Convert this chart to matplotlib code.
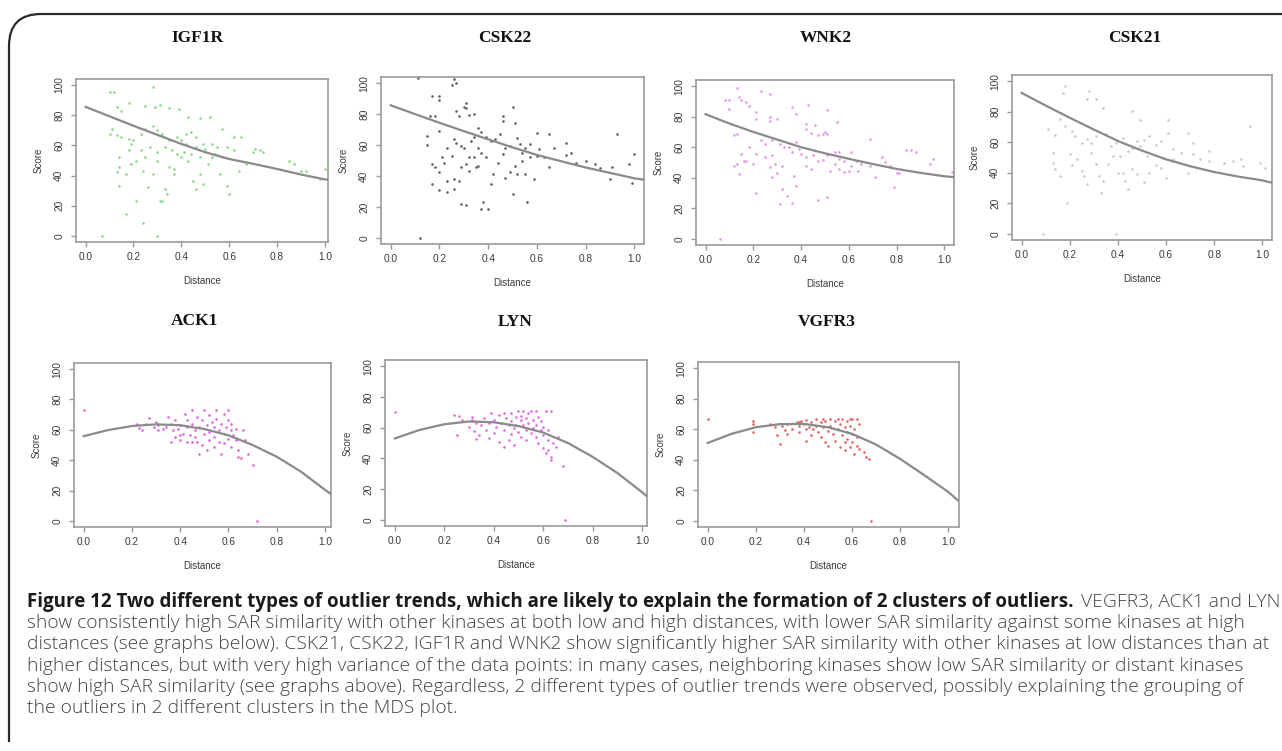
import numpy as np
import matplotlib
matplotlib.use("Agg")
import matplotlib.pyplot as plt
from matplotlib.patches import FancyBboxPatch

W, H = 1282, 751

# curve sample positions (distance) shared by every panel
dist_grid = [0.0, 0.1, 0.2, 0.3, 0.4, 0.5, 0.6, 0.7, 0.8, 0.9, 1.0, 1.04]

igf1r_fit = [85.5, 79.3, 73, 67, 61, 55.5, 51, 47.8, 44.4, 40.7, 37.5, 36.7]
csk22_fit = [85.7, 80, 74.4, 69, 63.7, 58.5, 53.6, 49.5, 45.5, 42, 38.5, 37.6]
wnk2_fit = [81.6, 75.5, 70, 65, 60, 56, 52.4, 49, 45.8, 43.2, 41, 40.4]
csk21_fit = [92.3, 84, 76, 68.3, 60.8, 54.5, 48.8, 44.3, 40.5, 37.5, 35, 33.5]
ack1_fit = [55.8, 59.8, 62.5, 63.6, 63, 60.5, 56.4, 50, 42.3, 32.5, 20.5, 16]
lyn_fit = [53, 58.5, 62.2, 64, 63.5, 61, 56.8, 50, 41, 30.5, 18, 12.5]
vgfr3_fit = [51, 57, 61.3, 63.3, 63.5, 61.3, 57, 50, 40.6, 30, 19, 13.5]

igf1r_pts = [
    (0.10, 95.5), (0.12, 95.5), (0.28, 98.4), (0.25, 86), (0.29, 85.5), (0.31, 87), (0.18, 88),
    (0.13, 85.5), (0.15, 83), (0.35, 85), (0.43, 79), (0.48, 78), (0.52, 79), (0.57, 71),
    (0.62, 65.5), (0.65, 65.5), (0.39, 84.4), (0.10, 67.8), (0.11, 71), (0.13, 66.7), (0.15, 65.5),
    (0.18, 64.4), (0.20, 63.3), (0.23, 67.8), (0.25, 71), (0.28, 73), (0.30, 70), (0.32, 67.8),
    (0.35, 63.3), (0.38, 65.5), (0.40, 63.3), (0.42, 67.8), (0.44, 68.9), (0.46, 65.5), (0.49, 61),
    (0.53, 61), (0.55, 58.9), (0.59, 58.9), (0.62, 56.7), (0.70, 55.5), (0.71, 57.8), (0.73, 56.7),
    (0.74, 55.5), (0.85, 50), (0.87, 47.8), (0.90, 43.3), (0.92, 43.3), (1.0, 44.4), (0.98, 37.8),
    (0.14, 52.2), (0.14, 45.5), (0.13, 42.2), (0.14, 33.3), (0.17, 41), (0.19, 47.8), (0.21, 50),
    (0.21, 23.3), (0.17, 14.4), (0.24, 8.9), (0.24, 43.3), (0.26, 32.2), (0.28, 41), (0.30, 50),
    (0.31, 23.3), (0.32, 23.3), (0.33, 31), (0.34, 27.8), (0.35, 45.5), (0.37, 41), (0.37, 44.4),
    (0.38, 54.4), (0.40, 52.2), (0.41, 55.5), (0.43, 50), (0.45, 36.7), (0.46, 31), (0.48, 41),
    (0.49, 34.4), (0.51, 47.8), (0.53, 52.2), (0.56, 41), (0.59, 33.3), (0.60, 27.8), (0.64, 43.3),
    (0.67, 47.8), (0.48, 52.2), (0.44, 54.4), (0.27, 58.9), (0.30, 55.5), (0.33, 58.9), (0.23, 56.7),
    (0.25, 52.2), (0.18, 56.7), (0.19, 61), (0.36, 56.7), (0.42, 61), (0.46, 58.9), (0.50, 57.8),
    (0.54, 54.4), (0.57, 52.2), (0.07, 0), (0.30, 0),
]

csk22_pts = [
    (0.12, 0), (0.11, 103.6), (0.26, 103), (0.27, 100), (0.25, 99), (0.17, 92), (0.20, 91.5),
    (0.20, 89), (0.31, 87), (0.30, 84.4), (0.31, 84), (0.50, 84.4), (0.16, 78.6), (0.18, 79),
    (0.28, 78.6), (0.27, 81.8), (0.32, 79.7), (0.34, 80.3), (0.46, 78.6), (0.51, 74.4), (0.46, 75.4),
    (0.15, 65.8), (0.15, 60), (0.20, 69), (0.26, 64), (0.27, 61.5), (0.29, 59.4), (0.33, 62.6),
    (0.34, 65), (0.36, 71), (0.37, 68.6), (0.39, 65), (0.41, 62.6), (0.43, 63.7), (0.45, 67.3),
    (0.47, 58.3), (0.49, 59.4), (0.52, 64.7), (0.53, 60.5), (0.55, 58.3), (0.57, 60.5), (0.60, 68),
    (0.65, 67), (0.67, 58.3), (0.72, 61.5), (0.72, 53.4), (0.74, 54.7), (0.76, 48.3), (0.80, 49.8),
    (0.84, 48), (0.86, 44.9), (0.91, 46), (0.93, 67), (0.90, 38), (0.98, 48), (1.0, 54),
    (0.99, 35.5), (0.17, 47.6), (0.18, 46), (0.17, 34.8), (0.20, 42.3), (0.21, 52.4), (0.22, 48.3),
    (0.23, 37), (0.23, 29.5), (0.20, 30.6), (0.25, 53), (0.26, 38), (0.28, 37), (0.26, 31.6),
    (0.29, 45.5), (0.29, 22), (0.31, 21), (0.31, 47.6), (0.32, 43.4), (0.34, 52), (0.35, 45.5),
    (0.36, 46.6), (0.37, 18.8), (0.38, 23), (0.40, 18.8), (0.39, 52), (0.41, 34.8), (0.42, 41),
    (0.44, 48.7), (0.46, 54), (0.47, 39), (0.49, 42.3), (0.50, 28.4), (0.51, 46.6), (0.52, 41),
    (0.54, 49.8), (0.55, 41), (0.56, 23), (0.57, 52), (0.59, 38), (0.61, 57.3), (0.63, 52),
    (0.65, 45.5), (0.54, 55), (0.60, 53), (0.37, 55), (0.32, 52), (0.30, 58.3), (0.23, 58.3),
    (0.36, 58.3),
]

wnk2_pts = [
    (0.06, 0), (0.13, 99), (0.23, 97), (0.27, 94.7), (0.08, 91), (0.10, 90.8), (0.14, 93),
    (0.15, 90.8), (0.17, 89.7), (0.18, 86.8), (0.10, 85.3), (0.36, 86), (0.43, 87.5), (0.51, 84.6),
    (0.21, 83), (0.21, 78.7), (0.27, 79.8), (0.27, 77), (0.30, 78.7), (0.38, 82), (0.42, 75.4),
    (0.46, 74.3), (0.50, 70), (0.42, 72), (0.44, 69.3), (0.47, 67.8), (0.49, 68.9), (0.51, 68.9),
    (0.55, 76.5), (0.12, 67.8), (0.13, 68.4), (0.23, 64.5), (0.25, 61.8), (0.28, 65), (0.31, 61.8),
    (0.33, 60), (0.35, 60), (0.38, 63.4), (0.39, 58.6), (0.36, 56.8), (0.40, 55.7), (0.42, 53.5),
    (0.45, 54.6), (0.47, 51.3), (0.49, 51.8), (0.51, 54.6), (0.54, 56.8), (0.56, 56.8), (0.56, 52.4),
    (0.58, 50.9), (0.61, 56.8), (0.63, 51.3), (0.65, 49.1), (0.69, 65.6), (0.74, 53.5), (0.75, 50.2),
    (0.77, 48), (0.84, 57.9), (0.86, 57.9), (0.88, 56.8), (0.94, 48.7), (0.95, 52.4), (0.80, 43),
    (0.81, 43), (0.79, 33.8), (0.12, 48), (0.13, 49), (0.14, 42.5), (0.16, 50.9), (0.17, 51.3),
    (0.15, 55.7), (0.18, 60), (0.21, 55.3), (0.20, 49.1), (0.25, 53.5), (0.27, 47), (0.28, 54.6),
    (0.29, 49.1), (0.30, 43), (0.32, 47.4), (0.32, 32.7), (0.31, 22.8), (0.34, 28.3), (0.36, 23.2),
    (0.21, 29.8), (0.28, 40.4), (0.37, 41.4), (0.38, 34.9), (0.42, 48), (0.44, 45.8), (0.47, 25.4),
    (0.51, 27.6), (0.52, 44.7), (0.54, 49.1), (0.56, 45.8), (0.58, 43.6), (0.60, 44.7), (0.64, 44.3),
    (0.71, 40.4), (0.69, 48), (1.03, 43.6), (0.61, 48),
]

csk21_pts = [
    (0.18, 96.5), (0.17, 92), (0.28, 93.7), (0.31, 88.6), (0.34, 82.7), (0.27, 88.2), (0.46, 80.5),
    (0.49, 74.4), (0.61, 74.6), (0.95, 70.7), (0.11, 68.5), (0.14, 64.6), (0.16, 75), (0.18, 70.7),
    (0.21, 67.4), (0.22, 64), (0.25, 59.7), (0.27, 62.4), (0.29, 59.7), (0.31, 64), (0.35, 65.2),
    (0.37, 57.5), (0.39, 59.7), (0.42, 63), (0.44, 54.3), (0.46, 56.5), (0.48, 60.8), (0.49, 57.5),
    (0.51, 61.5), (0.53, 64), (0.56, 58), (0.58, 60.8), (0.61, 66.3), (0.63, 55.4), (0.66, 52.7),
    (0.69, 66.3), (0.71, 52), (0.74, 48.8), (0.78, 54.3), (0.78, 47.7), (0.84, 46.6), (0.88, 47.7),
    (0.91, 49.2), (0.92, 44.4), (0.99, 46.6), (1.01, 43.3), (0.13, 53), (0.13, 46.6), (0.14, 42.2),
    (0.16, 37.9), (0.19, 20), (0.21, 44.9), (0.23, 48.8), (0.25, 41.1), (0.26, 37.9), (0.27, 32.4),
    (0.29, 53), (0.31, 45.5), (0.32, 37.9), (0.33, 27), (0.34, 34.6), (0.36, 45.5), (0.38, 51),
    (0.40, 40), (0.42, 40), (0.43, 34.6), (0.44, 29.5), (0.46, 42.2), (0.48, 39), (0.51, 33.9),
    (0.53, 40), (0.56, 44.9), (0.58, 43.3), (0.60, 36.8), (0.63, 48.8), (0.69, 40), (0.39, 0),
    (0.09, 0), (0.20, 52.1), (0.41, 51), (0.52, 51), (0.71, 59.7),
]

ack1_pts = [
    (0.0, 73.2), (0.22, 64), (0.23, 61.4), (0.24, 59.7), (0.26, 64), (0.27, 68), (0.29, 61.9),
    (0.30, 65), (0.31, 59.7), (0.31, 63), (0.33, 60.8), (0.34, 61.9), (0.35, 68.4), (0.36, 52),
    (0.36, 64), (0.37, 59.7), (0.38, 55.3), (0.38, 66.2), (0.39, 60.8), (0.40, 53.2), (0.40, 63),
    (0.41, 57.5), (0.42, 70.6), (0.43, 66.2), (0.43, 52), (0.43, 61.9), (0.44, 56.4), (0.45, 72.8),
    (0.45, 64), (0.46, 59.7), (0.46, 55.3), (0.47, 68.4), (0.47, 52), (0.48, 61.9), (0.49, 49.9),
    (0.49, 66.2), (0.50, 57.5), (0.50, 72.8), (0.51, 63), (0.52, 53.2), (0.52, 69.5), (0.52, 58.6),
    (0.53, 65.1), (0.54, 48.8), (0.54, 61.9), (0.54, 55.3), (0.55, 72.8), (0.55, 67.3), (0.56, 59.7),
    (0.56, 52), (0.57, 44.4), (0.57, 64), (0.58, 57.5), (0.58, 70.6), (0.58, 51), (0.59, 61.9),
    (0.60, 66.2), (0.60, 54.2), (0.60, 72.8), (0.61, 59.7), (0.61, 48.8), (0.61, 64), (0.62, 56.4),
    (0.63, 60.8), (0.63, 53.2), (0.64, 46.6), (0.64, 42.3), (0.65, 41.2), (0.66, 59.7), (0.67, 53.2),
    (0.68, 44.4), (0.70, 36.8), (0.72, 0), (0.51, 46.6), (0.48, 44.4), (0.40, 56.4), (0.45, 52),
]

lyn_pts = [
    (0.0, 69.9), (0.24, 68), (0.26, 67.7), (0.25, 55.2), (0.27, 65), (0.30, 60.7), (0.31, 67.2),
    (0.32, 58), (0.33, 62.9), (0.34, 55.2), (0.35, 61.8), (0.36, 66.2), (0.37, 58.5), (0.38, 62.9),
    (0.39, 69.4), (0.40, 56.3), (0.40, 65), (0.41, 60.7), (0.42, 68.3), (0.42, 50.9), (0.43, 62.9),
    (0.44, 47.6), (0.44, 69.4), (0.44, 58.5), (0.45, 66.2), (0.46, 61.8), (0.47, 55.9), (0.47, 69.4),
    (0.47, 64), (0.48, 59.6), (0.48, 48.7), (0.49, 67.2), (0.49, 61.8), (0.50, 57.4), (0.50, 70.5),
    (0.51, 65), (0.51, 54.1), (0.51, 67.7), (0.52, 61.8), (0.52, 70.5), (0.53, 58.5), (0.53, 66.2),
    (0.53, 52), (0.54, 69.4), (0.54, 62.9), (0.55, 56.3), (0.55, 70.5), (0.56, 65), (0.56, 59.6),
    (0.57, 70.5), (0.57, 54.1), (0.57, 61.8), (0.58, 67.2), (0.58, 49.8), (0.59, 58.5), (0.59, 64),
    (0.60, 46.5), (0.60, 55.2), (0.60, 60.7), (0.61, 43.2), (0.61, 70.5), (0.62, 52), (0.62, 58.5),
    (0.62, 45.4), (0.63, 70.5), (0.63, 41), (0.63, 38.9), (0.64, 49.8), (0.65, 47.6), (0.66, 54.1),
    (0.68, 34.9), (0.69, 0), (0.33, 52.4), (0.38, 53), (0.46, 52), (0.31, 65),
]

vgfr3_pts = [
    (0.0, 66.7), (0.19, 65.2), (0.19, 63.5), (0.19, 58), (0.26, 63.5), (0.28, 61.3), (0.29, 55.9),
    (0.30, 50.4), (0.31, 62.4), (0.32, 59.6), (0.33, 63.5), (0.33, 57), (0.35, 60.2), (0.37, 64.6),
    (0.38, 64.6), (0.38, 62.4), (0.39, 65.7), (0.40, 63.5), (0.41, 60.2), (0.41, 66.1), (0.42, 61.7),
    (0.43, 56.5), (0.43, 64.6), (0.44, 60.2), (0.45, 66.7), (0.45, 62.4), (0.46, 58), (0.47, 64.6),
    (0.47, 54.8), (0.48, 66.7), (0.48, 61.3), (0.49, 51.5), (0.49, 65.7), (0.50, 59.1), (0.50, 49.3),
    (0.51, 66.7), (0.51, 62.4), (0.52, 57), (0.53, 65.7), (0.53, 52.6), (0.54, 60.2), (0.54, 66.7),
    (0.55, 48.3), (0.55, 63.5), (0.56, 55.9), (0.56, 66.7), (0.57, 51.5), (0.57, 61.3), (0.57, 46.1),
    (0.58, 65.7), (0.58, 58), (0.58, 53.7), (0.59, 66.7), (0.59, 48.3), (0.59, 62.4), (0.60, 57),
    (0.60, 66.7), (0.60, 51.5), (0.61, 43.9), (0.61, 60.2), (0.62, 66.7), (0.62, 55), (0.62, 49.3),
    (0.63, 63.5), (0.63, 47.2), (0.65, 45), (0.66, 41.7), (0.67, 40.6), (0.68, 0), (0.41, 52.6),
    (0.38, 58),
]

titles = ["IGF1R", "CSK22", "WNK2", "CSK21", "ACK1", "LYN", "VGFR3"]
point_sets = [igf1r_pts, csk22_pts, wnk2_pts, csk21_pts, ack1_pts, lyn_pts, vgfr3_pts]
fits = [igf1r_fit, csk22_fit, wnk2_fit, csk21_fit, ack1_fit, lyn_fit, vgfr3_fit]
dot_colors = ["#8ad68a", "#606060", "#e896ea", "#cacaca", "#dc66dc", "#e06ae0", "#e06464"]

# panel boxes in pixels: left, top, right, bottom, right x-limit, title x, title y
boxes = [
    (76, 79, 328, 242, 1.013, 198, 38),
    (381, 77, 644, 244, 1.04, 505, 38),
    (696, 80, 954, 245, 1.04, 826, 38),
    (1012, 75, 1272, 240, 1.04, 1135, 38),
    (74, 363, 331, 527, 1.025, 195, 321),
    (385, 360, 647, 526, 1.02, 515, 322),
    (698, 362, 959, 527, 1.045, 827, 322),
]

fig = plt.figure(figsize=(W / 100, H / 100), dpi=100)
fig.patch.set_facecolor("white")

axis_gray = "#9a9a9a"
label_gray = "#3a3a3a"

for name, pts, fit, col, box in zip(titles, point_sets, fits, dot_colors, boxes):
    l, t, r, b, xr, tx, ty = box
    ax = fig.add_axes([l / W, 1 - b / H, (r - l) / W, (b - t) / H])
    pts = np.array(pts)
    ax.scatter(pts[:, 0], pts[:, 1], s=3.5, color=col, linewidths=0, zorder=2)
    ax.plot(dist_grid, fit, color="#8a8a8a", lw=1.6, zorder=3)
    ax.set_xlim(-0.04, xr)
    ax.set_ylim(-4, 104)
    ax.set_xticks([0, 0.2, 0.4, 0.6, 0.8, 1.0])
    ax.set_xticklabels(["0.0", "0.2", "0.4", "0.6", "0.8", "1.0"])
    ax.set_yticks([0, 20, 40, 60, 80, 100])
    for sp in ax.spines.values():
        sp.set_color(axis_gray)
        sp.set_linewidth(1.2)
    ax.tick_params(axis="both", direction="out", length=3.5, width=1.0, color=axis_gray,
                   labelsize=7.3, labelcolor=label_gray)
    ax.tick_params(axis="x", pad=4)
    ax.tick_params(axis="y", pad=5)
    for lab in ax.get_xticklabels() + ax.get_yticklabels():
        lab.set_fontfamily("Liberation Sans")
    for lab in ax.get_yticklabels():
        lab.set_rotation(90)
        lab.set_va("center")
    ax.set_xlabel("Distance", fontsize=7, color=label_gray, family="Liberation Sans", labelpad=10)
    ax.set_ylabel("Score", fontsize=7, color=label_gray, family="Liberation Sans", labelpad=8)
    fig.text(tx / W, 1 - ty / H, name, ha="center", va="center",
             fontsize=12.5, fontweight="bold", family="Liberation Serif", color="#111111")

# frame around the figure (top and left edges, rounded corner)
frame = FancyBboxPatch((9 / W, -0.2), 1.2, 1 - 14 / H + 0.2,
                       boxstyle="round,pad=0,rounding_size=0.025",
                       transform=fig.transFigure, fill=False, ec="#2a2a2a", lw=1.6,
                       mutation_aspect=W / H, clip_on=True)
fig.add_artist(frame)
fig.add_artist(plt.Rectangle((0, 0), 1, 9 / H, transform=fig.transFigure,
                             fc="white", ec="none", zorder=5))

caption_bold = ("Figure 12 Two different types of outlier trends, which are likely to "
                "explain the formation of 2 clusters of outliers.")
caption_lines = [
    "show consistently high SAR similarity with other kinases at both low and high distances, with lower SAR similarity against some kinases at high",
    "distances (see graphs below). CSK21, CSK22, IGF1R and WNK2 show significantly higher SAR similarity with other kinases at low distances than at",
    "higher distances, but with very high variance of the data points: in many cases, neighboring kinases show low SAR similarity or distant kinases",
    "show high SAR similarity (see graphs above). Regardless, 2 different types of outlier trends were observed, possibly explaining the grouping of",
    "the outliers in 2 different clusters in the MDS plot.",
]

cap_font = "Open Sans"
# size the caption so its widest line ends where it does in the source
probe = fig.text(0, 0, caption_lines[1], fontsize=10, family=cap_font, fontweight="light")
probe_b = fig.text(0, 0, caption_bold, fontsize=10, family=cap_font, fontweight="bold")
fig.canvas.draw()
cap_size = 10 * 1238 / probe.get_window_extent().width
bold_size = 10 * 1047 / probe_b.get_window_extent().width
probe.remove()
probe_b.remove()

txt = fig.text(27 / W, 1 - 602 / H, caption_bold, ha="left", va="center",
               fontsize=bold_size, fontweight="bold", family=cap_font, color="#1a1a1a")
fig.canvas.draw()
bb = txt.get_window_extent()
fig.text(bb.x1 / W + 7 / W, 1 - 602 / H, "VEGFR3, ACK1 and LYN", ha="left", va="center",
         fontsize=cap_size, family=cap_font, fontweight="light", color="#444444")
for i, line in enumerate(caption_lines):
    fig.text(27 / W, 1 - (623 + 21.3 * i) / H, line, ha="left", va="center",
             fontsize=cap_size, family=cap_font, fontweight="light", color="#444444")

fig.savefig("out.png", dpi=100)
